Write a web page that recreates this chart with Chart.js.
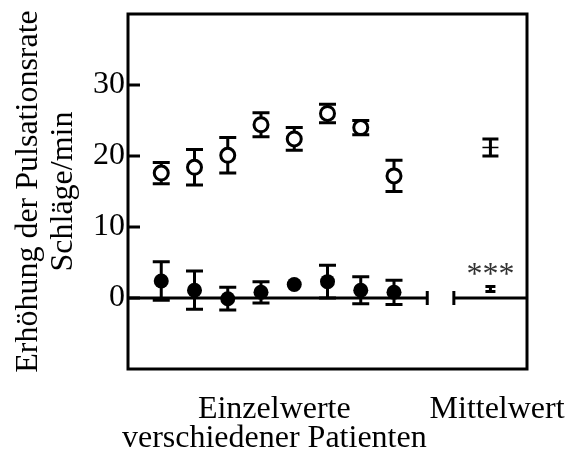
<!DOCTYPE html>
<html>
<head>
<meta charset="utf-8">
<script src="https://cdn.jsdelivr.net/npm/chart.js@4/dist/chart.umd.min.js"></script>
<style>
  html, body { margin: 0; padding: 0; background: #fff; }
  #wrap { width: 573px; height: 454px; }
</style>
</head>
<body>
<div id="wrap"><canvas id="pulseChart"></canvas></div>
<script>
// patients 1..8 plus the mean at the right
const patientX = [1, 2, 3, 4, 5, 6, 7, 8];
const meanX = 10.9;

// open circles (upper series)
const openVals = [17.6, 18.4, 20.1, 24.4, 22.4, 26.0, 24.0, 17.2];
const openErr  = [1.5, 2.5, 2.5, 1.7, 1.6, 1.3, 1.0, 2.2];
const openMean = 21.2, openMeanErr = 1.2;

// filled circles (lower series)
const filledVals = [2.4, 1.1, -0.1, 0.8, 1.9, 2.3, 1.1, 0.8];
const filledErr  = [2.7, 2.7, 1.6, 1.5, 0, 2.3, 1.9, 1.7];
const filledMean = 1.27, filledMeanErr = 0.35;

const yTicks = [0, 10, 20, 30];
const xLabels = [{ at: 4.4, text: ['Einzelwerte', 'verschiedener Patienten'] }, { at: 11.1, text: ['Mittelwert'] }];
const yTitle = ['Erhöhung der Pulsationsrate', 'Schläge/min'];
const signif = '***';
const signifY = 3.1;
const zeroBreak = [9, 9.8];

const FONT = 'Liberation Serif';

function errorBars(chart, xs, vals, errs, half) {
    const ctx = chart.ctx, xs_ = chart.scales.x, ys = chart.scales.y;
    xs.forEach((x, i) => {
        if (!errs[i]) return;
        const px = xs_.getPixelForValue(x);
        const top = ys.getPixelForValue(vals[i] + errs[i]);
        const bot = ys.getPixelForValue(vals[i] - errs[i]);
        ctx.beginPath();
        ctx.moveTo(px, top); ctx.lineTo(px, bot);
        ctx.moveTo(px - half, top); ctx.lineTo(px + half, top);
        ctx.moveTo(px - half, bot); ctx.lineTo(px + half, bot);
        ctx.stroke();
    });
}

const decor = {
    id: 'decor',
    beforeDatasetsDraw(chart) {
        const ctx = chart.ctx;
        ctx.save();
        ctx.strokeStyle = '#000'; ctx.lineWidth = 3; ctx.lineCap = 'butt';
        errorBars(chart, patientX, openVals, openErr, 8.5);
        errorBars(chart, patientX, filledVals, filledErr, 8.5);
        errorBars(chart, [meanX], [openMean], [openMeanErr], 8);
        errorBars(chart, [meanX], [filledMean], [filledMeanErr], 5);
        ctx.restore();
    },
    afterDraw(chart) {
        const ctx = chart.ctx, a = chart.chartArea, ys = chart.scales.y, xs = chart.scales.x;
        ctx.save();
        ctx.strokeStyle = '#000'; ctx.lineWidth = 3;
        ctx.strokeRect(a.left, a.top, a.right - a.left, a.bottom - a.top);
        ctx.beginPath();
        yTicks.forEach(v => {
            const py = ys.getPixelForValue(v);
            ctx.moveTo(a.left, py); ctx.lineTo(a.left + 12, py);
        });
        ctx.stroke();
        ctx.fillStyle = '#333';
        ctx.font = '32px ' + FONT;
        ctx.textAlign = 'center'; ctx.textBaseline = 'middle';
        ctx.fillText(signif, xs.getPixelForValue(meanX), ys.getPixelForValue(signifY));
        ctx.restore();
    }
};

new Chart(document.getElementById('pulseChart'), {
    type: 'scatter',
    data: {
        datasets: [
            { data: [{ x: 0, y: 0 }, { x: zeroBreak[0], y: 0 }, { x: 9.4, y: null }, { x: zeroBreak[1], y: 0 }, { x: 12, y: 0 }],
              showLine: true, borderColor: '#000', borderWidth: 3, spanGaps: false,
              pointStyle: 'line', rotation: 90, pointRadius: [0, 7, 0, 7, 0], pointBorderWidth: 3, pointBorderColor: '#000' },
            { data: patientX.map((x, i) => ({ x, y: openVals[i] })),
              pointRadius: 7, pointBorderWidth: 3, pointBorderColor: '#000', pointBackgroundColor: '#fff' },
            { data: patientX.map((x, i) => ({ x, y: filledVals[i] })),
              pointRadius: 7.5, pointBorderWidth: 0, pointBackgroundColor: '#000' },
            { data: [{ x: meanX, y: openMean }],
              pointStyle: 'line', pointRadius: 8, pointBorderWidth: 1.5, pointBorderColor: '#000' }
        ]
    },
    options: {
        responsive: true, maintainAspectRatio: false, animation: false,
        layout: { padding: { left: 11, right: 46, top: 14, bottom: 0 } },
        plugins: { legend: { display: false }, tooltip: { enabled: false } },
        scales: {
            x: {
                type: 'linear', min: 0, max: 12,
                afterBuildTicks: s => { s.ticks = xLabels.map(l => ({ value: l.at })); },
                afterFit: s => { s.height = 85; s.paddingLeft = 0; s.paddingRight = 0; },
                ticks: {
                    autoSkip: false, maxRotation: 0, padding: 27, color: '#000',
                    font: { family: FONT, size: 32, lineHeight: 0.88 },
                    callback: v => (xLabels.find(l => Math.abs(l.at - v) < 1e-6) || { text: '' }).text
                },
                grid: { display: false, drawTicks: false },
                border: { display: false }
            },
            y: {
                min: -10, max: 40,
                afterBuildTicks: s => { s.ticks = yTicks.map(v => ({ value: v })); },
                afterFit: s => { s.width = 117; s.paddingTop = 0; s.paddingBottom = 0; },
                ticks: { padding: 3, color: '#000', font: { family: FONT, size: 32 } },
                grid: { display: false, drawTicks: false },
                border: { display: false },
                title: { display: true, text: yTitle, color: '#000', padding: { top: 0, bottom: 4 },
                         font: { family: FONT, size: 32, lineHeight: 1.1 } }
            }
        }
    },
    plugins: [decor]
});
</script>
</body>
</html>
